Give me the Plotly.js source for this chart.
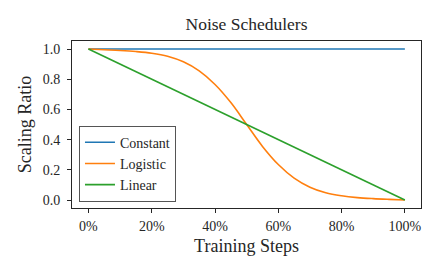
<!DOCTYPE html>
<html>
<head>
<meta charset="utf-8">
<script src="https://cdn.plot.ly/plotly-3.0.1.min.js"></script>
<style>html,body{margin:0;padding:0;background:#fff;}#chart{width:441px;height:273px;}</style>
</head>
<body>
<div id="chart"></div>
<script>
const steps = [0,5,10,15,20,25,30,35,40,45,50,55,60,65,70,75,80,85,90,95,100];
const constantValues = [1,1,1,1,1,1,1,1,1,1,1,1,1,1,1,1,1,1,1,1,1];
const logisticValues = [1.0,0.995,0.99,0.983,0.972,0.952,0.915,0.855,0.765,0.645,0.5,0.355,0.235,0.145,0.085,0.048,0.028,0.016,0.009,0.004,0.0];
const linearValues = [1.0,0.95,0.9,0.85,0.8,0.75,0.7,0.65,0.6,0.55,0.5,0.45,0.4,0.35,0.3,0.25,0.2,0.15,0.1,0.05,0.0];
const seriesNames = ["Constant","Logistic","Linear"];
const xTicks = [0,20,40,60,80,100];
const yTicks = [0,0.2,0.4,0.6,0.8,1.0];

const FONT = "Liberation Serif";
const colors = ["#1f77b4","#ff7f0e","#2ca02c"];
const vals = [constantValues, logisticValues, linearValues];
const traces = seriesNames.map((n,i)=>({
  x: steps, y: vals[i], name: n, type: "scatter", mode: "lines",
  line: {color: colors[i], width: 1.6, shape: i===1 ? "spline" : "linear"}
}));

const axisCommon = {
  showgrid: false, zeroline: false, showline: true, mirror: true,
  linecolor: "#262626", linewidth: 1, ticks: "outside", ticklen: 4, tickwidth: 1,
  tickcolor: "#262626", tickfont: {family: FONT, size: 14, color: "#262626"}
};

const layout = {
  width: 441, height: 273,
  margin: {l: 72, r: 20, t: 41, b: 65},
  paper_bgcolor: "#fff", plot_bgcolor: "#fff",
  font: {family: FONT, color: "#262626"},
  title: {text: "Noise Schedulers", x: 0.5, xref: "paper", y: 0.912, yanchor: "middle",
          font: {family: FONT, size: 17.5, color: "#262626"}},
  xaxis: Object.assign({}, axisCommon, {
    range: [-5.2, 105.1], tickvals: xTicks, ticktext: xTicks.map(v=>v+"%"),
    ticklabelstandoff: 1,
    title: {text: "Training Steps", font: {family: FONT, size: 18, color: "#262626"}, standoff: 6}
  }),
  yaxis: Object.assign({}, axisCommon, {
    range: [-0.053, 1.053], tickvals: yTicks, ticktext: yTicks.map(v=>v.toFixed(1)),
    ticklabelstandoff: 4,
    title: {text: "Scaling Ratio", font: {family: FONT, size: 18, color: "#262626"}, standoff: 6}
  }),
  showlegend: true,
  legend: {x: 0.02, y: 0.038, xanchor: "left", yanchor: "bottom",
    bgcolor: "rgba(255,255,255,0.85)", bordercolor: "#555", borderwidth: 1,
    font: {family: FONT, size: 14, color: "#262626"}, tracegroupgap: 0, itemwidth: 30}
};

Plotly.newPlot("chart", traces, layout, {displayModeBar: false, staticPlot: true});
</script>
</body>
</html>
